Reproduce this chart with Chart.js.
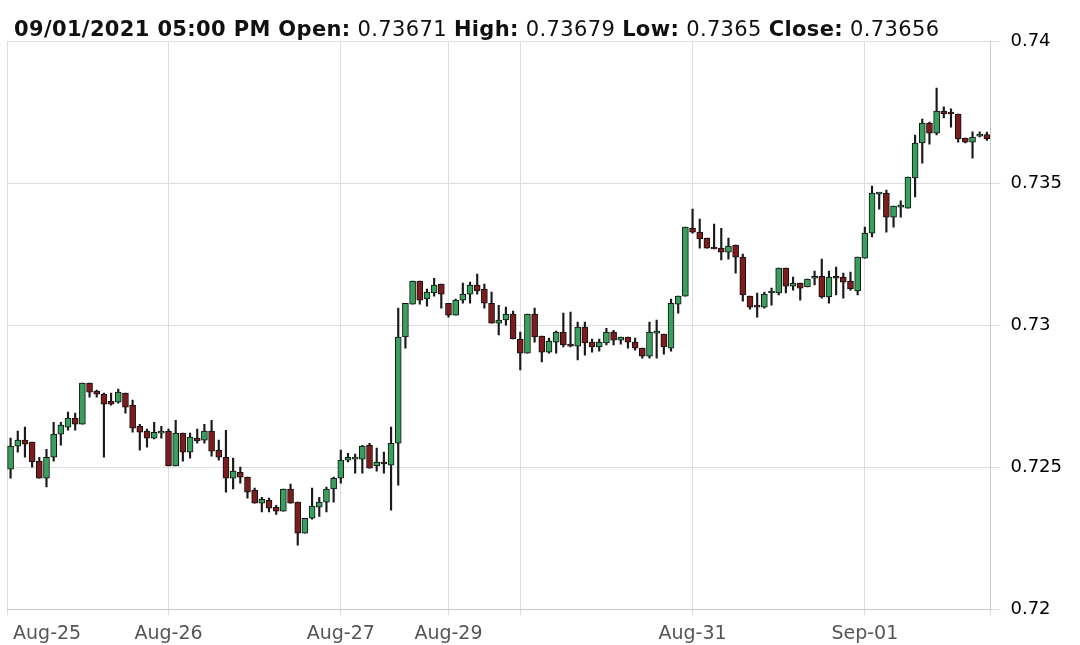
<!DOCTYPE html>
<html><head><meta charset="utf-8">
<script src="https://cdn.jsdelivr.net/npm/chart.js@4.4.0/dist/chart.umd.min.js"></script>
<style>
html,body{margin:0;padding:0;background:#fff;}
#wrap{position:relative;width:1080px;height:645px;overflow:hidden;}
#hdr{position:absolute;left:14px;top:19px;font-family:"DejaVu Sans",Verdana,sans-serif;font-size:21px;line-height:20px;letter-spacing:0.35px;color:#111;white-space:nowrap;}
#hdr b{font-weight:bold;}
canvas{position:absolute;left:0;top:0;}
</style></head><body>
<div id="wrap"><canvas id="c" width="1080" height="645"></canvas><div id="hdr"></div></div>
<script>
const headerTime = '09/01/2021 05:00 PM';
const xTickIndex = [-0.5, 22, 46, 61, 71, 95, 119, 136.5];
const xTickLabels = [' Aug-25', 'Aug-26', 'Aug-27', 'Aug-29', '', 'Aug-31', 'Sep-01', ''];
const yTickValues = [0.72, 0.725, 0.73, 0.735, 0.74];
const yTickLabels = ['0.72', '0.725', '0.73', '0.735', '0.74'];

const openP = [0.72493,0.72574,0.72595,0.72588,0.72521,0.72461,0.72535,0.72616,0.72641,0.72673,
0.72651,0.72796,0.72768,0.72757,0.72732,0.72729,0.72761,0.72718,0.72644,0.72627,
0.72602,0.72620,0.72627,0.72504,0.72620,0.72553,0.72602,0.72595,0.72627,0.72560,
0.72535,0.72461,0.72482,0.72465,0.72419,0.72373,0.72384,0.72359,0.72345,0.72423,
0.72377,0.72268,0.72320,0.72359,0.72377,0.72423,0.72461,0.72525,0.72528,0.72528,
0.72577,0.72504,0.72518,0.72507,0.72584,0.72958,0.73074,0.73155,0.73092,0.73113,
0.73144,0.73077,0.73035,0.73088,0.73109,0.73141,0.73127,0.73077,0.73007,0.73018,
0.73039,0.72951,0.72901,0.73039,0.72961,0.72905,0.72940,0.72975,0.72933,0.72926,
0.72993,0.72940,0.72923,0.72937,0.72975,0.72947,0.72958,0.72940,0.72919,0.72891,
0.72972,0.72968,0.72919,0.73074,0.73102,0.73341,0.73327,0.73306,0.73271,0.73271,
0.73257,0.73282,0.73239,0.73102,0.73067,0.73063,0.73113,0.73113,0.73201,0.73137,
0.73148,0.73134,0.73165,0.73172,0.73099,0.73169,0.73169,0.73155,0.73120,0.73236,
0.73324,0.73461,0.73465,0.73380,0.73415,0.73412,0.73518,0.73641,0.73711,0.73676,
0.73753,0.73746,0.73743,0.73658,0.73644,0.73665,0.73671];
const highP = [0.72602,0.72627,0.72641,0.72588,0.72535,0.72563,0.72658,0.72658,0.72694,0.72690,
0.72796,0.72796,0.72771,0.72761,0.72761,0.72775,0.72761,0.72736,0.72651,0.72634,
0.72658,0.72644,0.72634,0.72665,0.72620,0.72620,0.72634,0.72651,0.72665,0.72595,
0.72630,0.72532,0.72500,0.72465,0.72426,0.72394,0.72391,0.72366,0.72423,0.72440,
0.72377,0.72320,0.72426,0.72394,0.72430,0.72465,0.72560,0.72549,0.72546,0.72577,
0.72584,0.72567,0.72553,0.72641,0.73060,0.73077,0.73155,0.73155,0.73127,0.73165,
0.73144,0.73077,0.73092,0.73148,0.73151,0.73180,0.73144,0.73116,0.73070,0.73063,
0.73049,0.72975,0.73039,0.73060,0.72961,0.72954,0.72979,0.73042,0.73046,0.73011,
0.73011,0.72951,0.72951,0.72989,0.72982,0.72958,0.72958,0.72954,0.72919,0.73011,
0.73018,0.72968,0.73092,0.73102,0.73345,0.73408,0.73373,0.73306,0.73356,0.73341,
0.73306,0.73282,0.73250,0.73102,0.73113,0.73116,0.73130,0.73201,0.73201,0.73169,
0.73148,0.73162,0.73190,0.73232,0.73190,0.73204,0.73183,0.73187,0.73239,0.73345,
0.73489,0.73465,0.73475,0.73419,0.73437,0.73521,0.73669,0.73725,0.73715,0.73834,
0.73768,0.73761,0.73743,0.73658,0.73680,0.73680,0.73679];
const lowP = [0.72461,0.72553,0.72535,0.72500,0.72461,0.72430,0.72521,0.72577,0.72630,0.72630,
0.72651,0.72746,0.72746,0.72535,0.72718,0.72725,0.72690,0.72623,0.72560,0.72570,
0.72599,0.72602,0.72504,0.72504,0.72521,0.72532,0.72584,0.72584,0.72539,0.72525,
0.72412,0.72423,0.72444,0.72391,0.72373,0.72342,0.72342,0.72334,0.72345,0.72373,
0.72225,0.72268,0.72317,0.72327,0.72342,0.72377,0.72444,0.72518,0.72479,0.72479,
0.72496,0.72486,0.72479,0.72349,0.72437,0.72919,0.73074,0.73074,0.73067,0.73102,
0.73060,0.73028,0.73035,0.73077,0.73077,0.73109,0.73060,0.73007,0.72965,0.73000,
0.72951,0.72842,0.72901,0.72940,0.72870,0.72901,0.72901,0.72923,0.72923,0.72877,
0.72894,0.72905,0.72908,0.72930,0.72930,0.72933,0.72919,0.72912,0.72884,0.72884,
0.72884,0.72898,0.72908,0.73042,0.73102,0.73324,0.73271,0.73271,0.73268,0.73229,
0.73232,0.73183,0.73084,0.73056,0.73028,0.73060,0.73070,0.73106,0.73113,0.73123,
0.73088,0.73134,0.73141,0.73095,0.73077,0.73106,0.73095,0.73123,0.73106,0.73236,
0.73310,0.73408,0.73327,0.73345,0.73380,0.73412,0.73451,0.73570,0.73637,0.73669,
0.73729,0.73697,0.73644,0.73641,0.73588,0.73662,0.73650];
const closeP = [0.72574,0.72595,0.72581,0.72518,0.72461,0.72535,0.72616,0.72648,0.72673,0.72651,
0.72796,0.72764,0.72757,0.72722,0.72722,0.72764,0.72711,0.72637,0.72623,0.72602,
0.72623,0.72627,0.72504,0.72620,0.72553,0.72606,0.72592,0.72627,0.72556,0.72535,
0.72461,0.72486,0.72465,0.72412,0.72373,0.72387,0.72356,0.72345,0.72423,0.72373,
0.72268,0.72320,0.72363,0.72377,0.72423,0.72461,0.72525,0.72535,0.72532,0.72574,
0.72496,0.72518,0.72511,0.72584,0.72958,0.73077,0.73155,0.73088,0.73116,0.73141,
0.73109,0.73035,0.73088,0.73109,0.73141,0.73120,0.73077,0.73007,0.73018,0.73039,
0.72951,0.72901,0.73039,0.72958,0.72905,0.72944,0.72975,0.72930,0.72926,0.72993,
0.72937,0.72923,0.72940,0.72975,0.72947,0.72958,0.72940,0.72919,0.72891,0.72975,
0.72975,0.72923,0.73077,0.73102,0.73345,0.73327,0.73303,0.73271,0.73268,0.73257,
0.73278,0.73239,0.73106,0.73063,0.73063,0.73109,0.73116,0.73201,0.73137,0.73148,
0.73130,0.73162,0.73172,0.73099,0.73169,0.73165,0.73151,0.73127,0.73239,0.73324,
0.73465,0.73465,0.73380,0.73419,0.73419,0.73521,0.73641,0.73711,0.73676,0.73753,
0.73743,0.73743,0.73655,0.73644,0.73662,0.73672,0.73656];

const upColor = '#37a05c';
const downColor = '#7c1c1c';
const n = openP.length;
const last = n - 1;

document.getElementById('hdr').innerHTML =
  '<b>' + headerTime + ' Open:</b> ' + openP[last] +
  ' <b>High:</b> ' + highP[last] +
  ' <b>Low:</b> ' + lowP[last] +
  ' <b>Close:</b> ' + closeP[last];

const idx = openP.map((_, i) => i);
const wickData = idx.map(i => ({x: i, y: [lowP[i], highP[i]]}));
const bodyData = idx.map(i => ({x: i, y: [Math.min(openP[i], closeP[i]), Math.max(openP[i], closeP[i])]}));
const bodyColors = idx.map(i => closeP[i] >= openP[i] ? upColor : downColor);

Chart.defaults.font.family = '"DejaVu Sans", Verdana, sans-serif';

new Chart(document.getElementById('c'), {
  type: 'bar',
  data: {
    datasets: [
      {data: bodyData, backgroundColor: bodyColors, borderColor: '#111', borderWidth: 1,
       borderSkipped: false, barThickness: 6, grouped: false, order: 1, minBarLength: 2},
      {data: wickData, backgroundColor: '#1a1a1a', borderWidth: 0, barThickness: 1.5,
       grouped: false, order: 2}
    ]
  },
  options: {
    responsive: false,
    animation: false,
    devicePixelRatio: 1,
    layout: {padding: {left: 5, top: 41, right: 8, bottom: -7}},
    plugins: {legend: {display: false}, tooltip: {enabled: false}},
    scales: {
      x: {
        type: 'linear', min: -0.5, max: 136.5, offset: false,
        afterBuildTicks: axis => { axis.ticks = xTickIndex.map(v => ({value: v})); },
        grid: {color: '#dddddd', lineWidth: 1, tickLength: 6, offset: false},
        border: {display: true, color: '#cccccc'},
        ticks: {align: 'inner', autoSkip: false, maxRotation: 0, color: '#555', padding: 7,
                font: {size: 19}, callback: (v, i) => xTickLabels[i]}
      },
      y: {
        position: 'right', min: 0.72, max: 0.74,
        afterBuildTicks: axis => { axis.ticks = yTickValues.map(v => ({value: v})); },
        grid: {color: '#dddddd', lineWidth: 1, tickLength: 10},
        border: {display: true, color: '#cccccc'},
        ticks: {color: '#000', padding: 10, font: {size: 18}, callback: (v, i) => yTickLabels[i]}
      }
    }
  }
});
</script>
</body></html>
